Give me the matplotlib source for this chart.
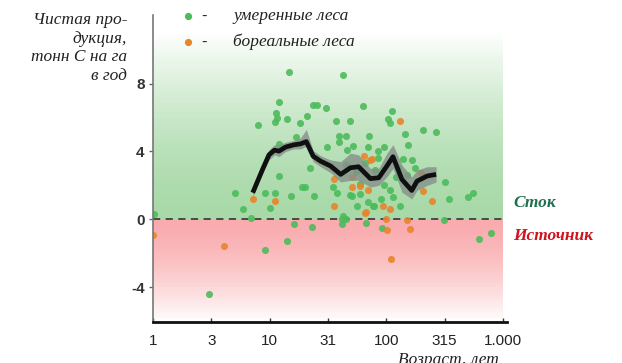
import numpy as np
import matplotlib
matplotlib.use('Agg')
import matplotlib.pyplot as plt

plt.rcParams['axes.unicode_minus'] = False

# green points: temperate forests
temperate_age = [1.01, 3.0, 5.0, 5.96, 6.97, 8.0, 9.06, 9.06, 10.06, 11.0, 11.0, 11.3, 11.6,
                 12.1, 12.0, 12.0, 14.2, 14.5, 14.0, 15.1, 16.1, 16.8, 18.2, 19.1, 19.9, 21.0,
                 22.0, 23.2, 23.7, 25.3, 24.1, 30.1, 31.0, 36.9, 42.1, 49.2, 62.7, 71.6, 70.0,
                 39.5, 45.3, 39.0, 46.2, 51.9, 35.0, 38.0, 49.0, 56.4, 67.0, 42.0, 42.0, 60.0,
                 76.9, 102.6, 106.6, 111.9, 208.0, 267.0, 145.0, 152.0, 96.0, 140.0, 165.0,
                 108.0, 78.5, 130.0, 91.8, 319.0, 347.0, 499.0, 551.0, 313.0, 627.0, 789.0,
                 45.0, 55.0, 65.0, 80.0, 85.0, 95.0, 120.0, 125.0, 150.0, 175.0, 60.0, 70.0,
                 90.0, 115.0, 84.0, 42.9, 44.9, 50.9]
temperate_nep = [0.3, -4.4, 1.53, 0.63, 0.08, 5.56, 1.53, -1.8, 0.66, 1.57, 5.73, 6.27, 5.95,
                 6.94, 2.55, 4.45, 5.92, 8.66, -1.27, 1.37, -0.3, 4.84, 5.65, 1.9, 1.9, 6.1,
                 3.0, -0.43, 6.76, 6.76, 1.37, 6.55, 4.26, 5.8, 8.5, 5.8, 6.7, 4.94, 4.26,
                 4.9, 4.9, 4.55, 4.08, 4.35, 1.9, 1.57, 1.41, 0.78, -0.23, 0.04, -0.3, 2.1,
                 0.78, 5.92, 5.69, 6.41, 5.25, 5.14, 5.0, 4.4, 4.26, 3.53, 3.47,
                 1.72, 0.78, 0.78, -0.49, 2.2, 1.17, 1.33, 1.57, -0.06, -1.18, -0.82,
                 3.2, 2.8, 3.3, 2.9, 3.6, 2.0, 2.5, 3.0, 2.6, 3.0, 1.5, 1.0,
                 1.2, 1.3, 4.0, 0.2, 0.04, 1.37]

# orange points: boreal forests
boreal_age = [1.0, 4.02, 7.16, 11.0, 35.5, 35.9, 50.6, 51.0, 66.5, 63.8, 70.0, 73.0, 75.5,
              130.0, 198.0, 60.0, 205.0, 245.0, 94.5, 106.6, 66.0, 100.0, 150.0, 102.0,
              160.0, 109.6]
boreal_nep = [-0.95, -1.57, 1.17, 1.08, 0.78, 2.35, 2.5, 1.92, 0.43, 3.76, 1.72, 3.5, 3.57,
              5.82, 2.73, 1.96, 1.67, 1.08, 0.78, 0.63, 0.39, 0.04, -0.06, -0.65,
              -0.59, -2.35]

# smoothed mean and its band
mean_age = [7.16, 8.67, 9.86, 11.0, 12.0, 13.7, 16.1, 18.4, 20.6, 23.6, 27.3, 33.3, 40.6,
            49.2, 57.8, 73.0, 86.0, 101.0, 114.0, 136.0, 165.0, 183.0, 223.0, 267.0]
mean_nep = [1.57, 2.93, 3.8, 4.08, 4.02, 4.26, 4.39, 4.45, 4.58, 3.72, 3.43, 3.14, 2.65,
            3.04, 3.1, 2.4, 2.45, 3.14, 3.69, 2.35, 1.7, 2.25, 2.55, 2.65]
band_hi = [1.8, 3.2, 4.1, 4.4, 4.4, 4.55, 4.65, 4.8, 5.3, 4.05, 3.75, 3.5, 3.4,
           3.9, 3.8, 3.0, 3.0, 3.9, 4.4, 3.2, 2.5, 2.9, 3.1, 3.1]
band_lo = [1.35, 2.7, 3.5, 3.8, 3.7, 4.0, 4.15, 4.15, 4.3, 3.4, 3.1, 2.75, 2.2,
           2.3, 2.3, 1.9, 2.0, 2.5, 3.0, 1.6, 1.2, 1.7, 2.0, 2.2]

x_ticks = [1, 10 ** 0.5, 10, 10 ** 1.5, 100, 10 ** 2.5, 1000]
x_labels = ['1', '3', '10', '31', '100', '315', '1.000']
y_ticks = [-4, 0, 4, 8]

serif = 'Liberation Serif'

fig = plt.figure(figsize=(6.22, 3.63), dpi=100)
ax = fig.add_axes([0.246, 0.113, 0.569, 0.846])
ax.set_xscale('log')
ax.set_xlim(1, 1080)
ax.set_ylim(-6.05, 12.05)

# background gradients (green = sink, red = source)
xfrac = np.log10(1000) / np.log10(1080)
n = 80
ys = np.linspace(0, 11, n + 1)
for i in range(n):
    t = (ys[i] + ys[i + 1]) / 2 / 11
    a = 0.62 * (1 - t ** 1.6)
    ax.axhspan(ys[i], ys[i + 1], xmax=xfrac, color=(0.45, 0.76, 0.45), alpha=a, lw=0, zorder=0)
ys = np.linspace(-6.05, 0, n + 1)
for i in range(n):
    t = -(ys[i] + ys[i + 1]) / 2 / 6.05
    a = 0.6 * (1 - t ** 1.5)
    ax.axhspan(ys[i], ys[i + 1], xmax=xfrac, color=(0.96, 0.45, 0.47), alpha=a, lw=0, zorder=0)

ax.plot([1, 1000], [0, 0], color='#404040', lw=1.3, dashes=(4, 3), zorder=1)

ax.scatter(temperate_age, temperate_nep, s=26, color='#4dbb5c', alpha=0.9, lw=0, zorder=2)
ax.scatter(boreal_age, boreal_nep, s=26, color='#e8852c', alpha=0.9, lw=0, zorder=2)

ax.fill_between(mean_age, band_lo, band_hi, color='#85908a', alpha=0.8, lw=0, zorder=3)
ax.plot(mean_age, mean_nep, color='#101010', lw=3.4, zorder=4, solid_capstyle='butt')

ax.set_xticks(x_ticks)
ax.set_xticklabels(x_labels)
ax.xaxis.set_minor_locator(matplotlib.ticker.NullLocator())
ax.set_yticks(y_ticks)
ax.tick_params(axis='x', direction='in', length=3, width=1, pad=9, labelsize=11,
               labelcolor='#222222', colors='#333333')
ax.tick_params(axis='y', direction='out', length=3, width=1, pad=3, labelsize=11,
               labelcolor='#333333', colors='#666666')
for lab in ax.get_xticklabels():
    lab.set_fontfamily('Liberation Sans')
for lab in ax.get_yticklabels():
    lab.set_fontfamily('Liberation Sans')
    lab.set_fontweight('bold')

ax.spines['top'].set_visible(False)
ax.spines['right'].set_visible(False)
ax.spines['left'].set_color('#777777')
ax.spines['left'].set_linewidth(1.2)
ax.spines['bottom'].set_color('#111111')
ax.spines['bottom'].set_linewidth(2)

# y label
fig.text(127 / 622, 1 - 12 / 363, 'Чистая про-\nдукция,\nтонн С на га\nв год',
         ha='right', va='top', fontsize=12.5, style='italic', family=serif,
         color='#222222', linespacing=1.22, multialignment='right')

# legend
for yy, col, txt in [(16, '#4dbb5c', 'умеренные леса'), (42, '#e8852c', 'бореальные леса')]:
    fy = 1 - yy / 363
    fig.add_artist(plt.Line2D([188 / 622], [fy], marker='o', markersize=5.2, color=col,
                              markeredgewidth=0, transform=fig.transFigure))
    fig.text(201 / 622, fy, '-', ha='left', va='center', fontsize=12, color='#222222',
             family='Liberation Sans')
    fig.text(233 / 622, fy, txt, ha='left', va='center', fontsize=12.5, style='italic',
             family=serif, color='#222222')

fig.text(513 / 622, 1 - 203 / 363, 'Сток', ha='left', va='center', fontsize=12.5,
         style='italic', weight='bold', family=serif, color='#1f7050')
fig.text(513 / 622, 1 - 236 / 363, 'Источник', ha='left', va='center', fontsize=12.5,
         style='italic', weight='bold', family=serif, color='#d0141e')

# x label sits at the bottom edge, partly cut off as in the original
fig.text(398 / 622, -0.004, 'Возраст, лет', ha='left', va='baseline', fontsize=12.5,
         style='italic', family=serif, color='#222222')

fig.savefig('out.png', dpi=100)
